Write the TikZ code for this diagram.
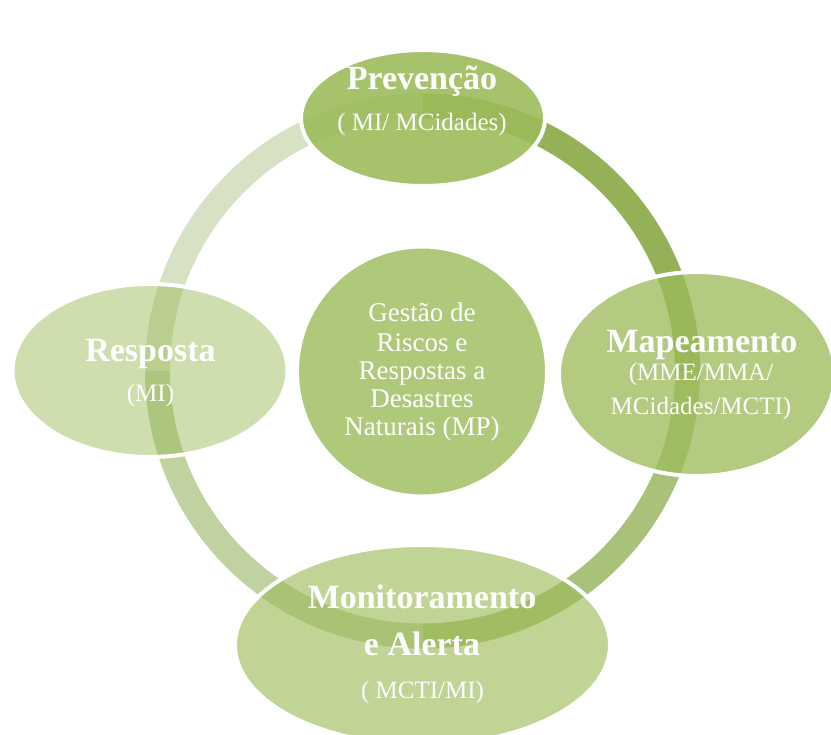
\documentclass[tikz,border=0pt]{standalone}
\usepackage{fontspec}
\setmainfont{Liberation Serif}
\usetikzlibrary{shapes.geometric}
\definecolor{basegreen}{RGB}{155,187,89}
\definecolor{ringA}{RGB}{148,177,87}
\definecolor{ringB}{RGB}{169,193,121}
\definecolor{ringC}{RGB}{192,210,160}
\definecolor{ringD}{RGB}{214,226,195}
\begin{document}
\begin{tikzpicture}[x=1pt,y=-1pt,
  ringseg/.style={line width=25pt},
  blob/.style={ellipse, draw=white, line width=4pt, fill=basegreen, inner sep=0pt, outer sep=0pt},
  head/.style={anchor=base, inner sep=0pt, text=white, font=\fontsize{34}{40}\selectfont\bfseries},
  sub/.style={anchor=base, inner sep=0pt, text=white, font=\fontsize{25}{30}\selectfont},
  mid/.style={anchor=base, inner sep=0pt, text=white, font=\fontsize{27}{32}\selectfont}]
\useasboundingbox (0,0) rectangle (831,735);
\coordinate (c) at (422.5,371);
% ring in four quarters
\draw[ringseg, ringA] (c) ++(-90:265) arc[start angle=-90, end angle=0, radius=265];
\draw[ringseg, ringB] (c) ++(0:265) arc[start angle=0, end angle=90, radius=265];
\draw[ringseg, ringC] (c) ++(90:265) arc[start angle=90, end angle=180, radius=265];
\draw[ringseg, ringD] (c) ++(180:265) arc[start angle=180, end angle=270, radius=265];
% ellipses
\node[blob, fill opacity=0.89, minimum width=244pt, minimum height=136pt] (prev) at (423,118) {};
\node[blob, fill opacity=0.76, minimum width=276pt, minimum height=204pt] (mape) at (697,374) {};
\node[blob, fill opacity=0.63, minimum width=375pt, minimum height=200pt] (moni) at (422.5,645) {};
\node[blob, fill opacity=0.49, minimum width=275pt, minimum height=173pt] (resp) at (150,370.5) {};
\node[blob, fill opacity=0.80, minimum width=250pt, minimum height=250pt] (gest) at (422,371.5) {};
% texts
\node[head] (prevA) at (422,90) {Prevenção};
\node[sub] (prevB) at (422,131) {( MI/ MCidades)};
\node[head] (mapeA) at (702,353) {Mapeamento};
\node[sub] (mapeB) at (701,381) {(MME/MMA/};
\node[sub] (mapeC) at (701,415) {MCidades/MCTI)};
\node[head] (respA) at (150.5,362) {Resposta};
\node[sub] (respB) at (150.5,402) {(MI)};
\node[head] (moniA) at (422,608) {Monitoramento};
\node[head] (moniB) at (422,655) {e Alerta};
\node[sub] (moniC) at (422.5,698) {( MCTI/MI)};
\node[mid] (gestA) at (422,322) {Gestão de};
\node[mid] (gestB) at (422,351.5) {Riscos e};
\node[mid] (gestC) at (422,380) {Respostas a};
\node[mid] (gestD) at (422,408) {Desastres};
\node[mid] (gestE) at (422,436) {Naturais (MP)};
\end{tikzpicture}
\end{document}
